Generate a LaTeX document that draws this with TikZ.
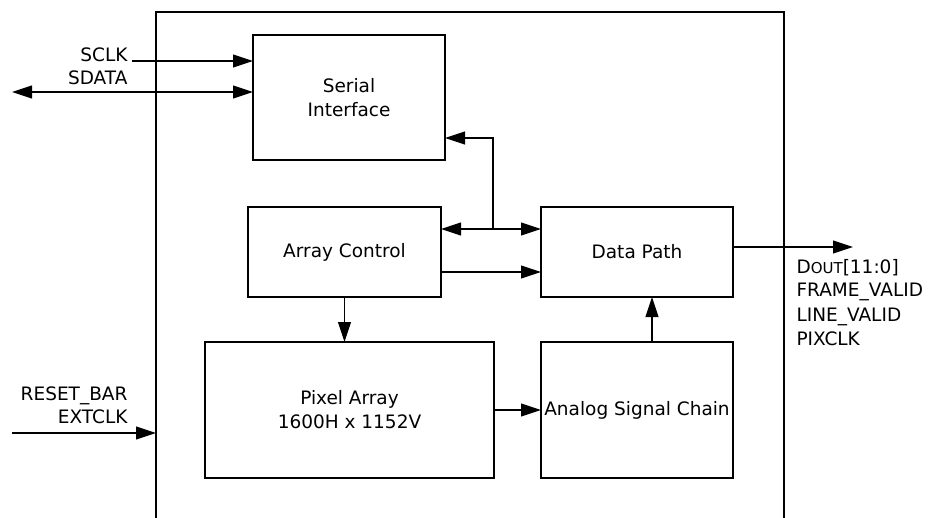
\documentclass[tikz,border=0pt]{standalone}
\usepackage{fontspec}
\setmainfont{DejaVu Sans}
\usetikzlibrary{arrows.meta,calc}

\begin{document}
\begin{tikzpicture}[x=1pt,y=-1pt,
        line width=1.1pt,
        font=\fontsize{18.5}{24}\selectfont,
        blk/.style={draw,inner sep=0,outer sep=0,align=center},
        sig/.style={-{Triangle[length=20pt,width=13pt]}},
        bisig/.style={{Triangle[length=20pt,width=13pt]}-{Triangle[length=20pt,width=13pt]}},
        lbl/.style={inner sep=0}]
        \useasboundingbox (0,0) rectangle (941,518);

        %%%% Chip outline =================================
        \node[inner sep=0,outer sep=0,minimum width=628pt,minimum height=520pt] (chip) at (470,272) {};
        \draw (chip.south west) -- (chip.north west) -- (chip.north east) -- (chip.south east);

        % Blocks
        \node[blk,minimum width=192pt,minimum height=125pt] (serial) at (349,97.5) {Serial\\Interface};
        \node[blk,minimum width=193pt,minimum height=90pt] (arrayctl) at (344.5,252) {Array Control};
        \node[blk,minimum width=192pt,minimum height=90pt] (datapath) at (637,252) {Data Path};
        \node[blk,minimum width=289pt,minimum height=136pt] (pixel) at (349.5,410) {Pixel Array\\1600H x 1152V};
        \node[blk,minimum width=192pt,minimum height=136pt] (analog) at (637,410) {Analog Signal Chain};

        % Pin labels
        \node[lbl,anchor=base east] (sclklbl) at (128,62) {SCLK};
        \node[lbl,anchor=base east] (sdatalbl) at (128,85) {SDATA};
        \node[lbl,anchor=base east] (resetlbl) at (128,400) {RESET\_BAR};
        \node[lbl,anchor=base east] (extclklbl) at (128,423) {EXTCLK};
        \node[lbl,anchor=base west] (doutlbl) at (796,273) {D{\fontsize{15}{18}\selectfont OUT}[11:0]};
        \node[lbl,anchor=base west] (fvlbl) at (796,297) {FRAME\_VALID};
        \node[lbl,anchor=base west] (lvlbl) at (796,321) {LINE\_VALID};
        \node[lbl,anchor=base west] (pclklbl) at (796,345) {PIXCLK};

        % Free ends
        \coordinate (sclk) at (132,61);
        \coordinate (sdata) at (12,92);
        \coordinate (extclk) at (12,433);
        \coordinate (dout) at (853,247);
        \coordinate (bus) at (493,229);
        \coordinate (sitap) at ([yshift=22pt]serial.south east);
        \coordinate (actap) at ([yshift=-20pt]arrayctl.east);

        % Arcs
        \draw[sig] (sclk) -- (sclk -| serial.west);
        \draw[bisig] (sdata) -- (sdata -| serial.west);
        \draw[sig] (extclk) -- (extclk -| chip.west);
        \draw[bisig] (bus -| arrayctl.east) -- (bus -| datapath.west);
        \draw[sig] (bus) |- (sitap);
        \draw[sig] (actap) -- (actap -| datapath.west);
        \draw[sig] (arrayctl.south) -- (arrayctl.south |- pixel.north);
        \draw[sig] (pixel.east |- analog.west) -- (analog.west);
        \draw[sig] ([xshift=15pt]analog.north) -- ([xshift=15pt]datapath.south);
        \draw[sig] (dout -| datapath.east) -- (dout);
    \end{tikzpicture}
\end{document}
